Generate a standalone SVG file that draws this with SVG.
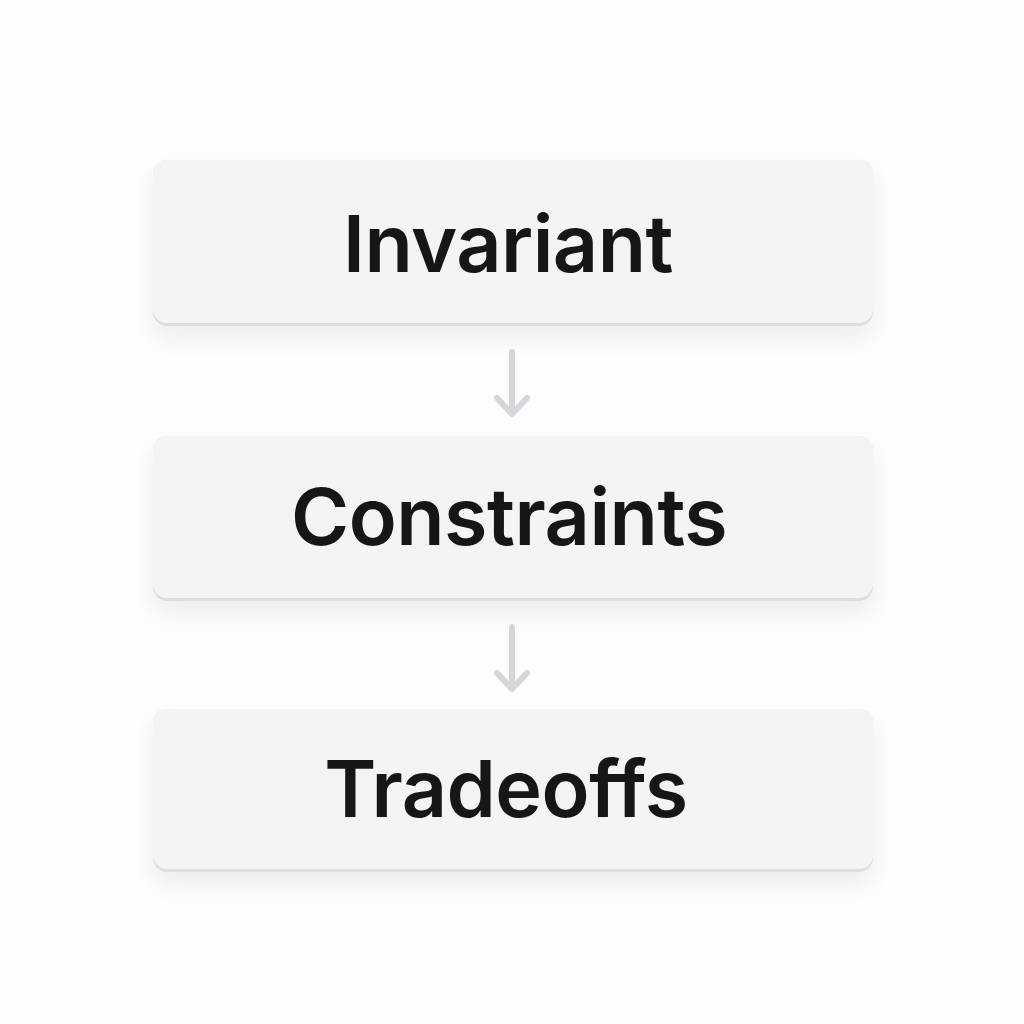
<svg xmlns="http://www.w3.org/2000/svg" width="1024" height="1024" viewBox="0 0 1024 1024">
<defs>
<filter id="sh" x="-10%" y="-20%" width="120%" height="160%">
<feGaussianBlur in="SourceAlpha" stdDeviation="12"/>
<feOffset dy="12" result="b"/>
<feComponentTransfer><feFuncA type="linear" slope="0.07"/></feComponentTransfer>
<feMerge><feMergeNode/><feMergeNode in="SourceGraphic"/></feMerge>
</filter>
</defs>
<style>
.edge{fill:#dcdee1}
.box{fill:#f4f4f5}
.lbl{font-family:Inter,"Liberation Sans",sans-serif;font-weight:600;font-size:79px;fill:#141414;text-anchor:middle;letter-spacing:-0.5px}
.arr{stroke:#d4d6d9;stroke-width:6;stroke-linecap:round;stroke-linejoin:round;fill:none}
</style>
<rect width="1024" height="1024" fill="#fdfdfd"/>
<g id="n1" filter="url(#sh)">
<rect class="edge" x="153" y="160" width="720" height="166" rx="14"/>
<rect class="box" x="153" y="160" width="720" height="163" rx="14"/>
<text class="lbl" x="508" y="272">Invariant</text>
</g>
<g id="n2" filter="url(#sh)">
<rect class="edge" x="153" y="436" width="720" height="165" rx="14"/>
<rect class="box" x="153" y="436" width="720" height="162" rx="14"/>
<text class="lbl" x="509" y="545">Constraints</text>
</g>
<g id="n3" filter="url(#sh)">
<rect class="edge" x="153" y="709" width="720" height="163" rx="14"/>
<rect class="box" x="153" y="709" width="720" height="160" rx="14"/>
<text class="lbl" x="506" y="817">Tradeoffs</text>
</g>
<g id="connectors">
<path class="arr" d="M512 352V414M497 398L512 414L527 398"/>
<path class="arr" d="M512 627V689M497 673L512 689L527 673"/>
</g>
</svg>
